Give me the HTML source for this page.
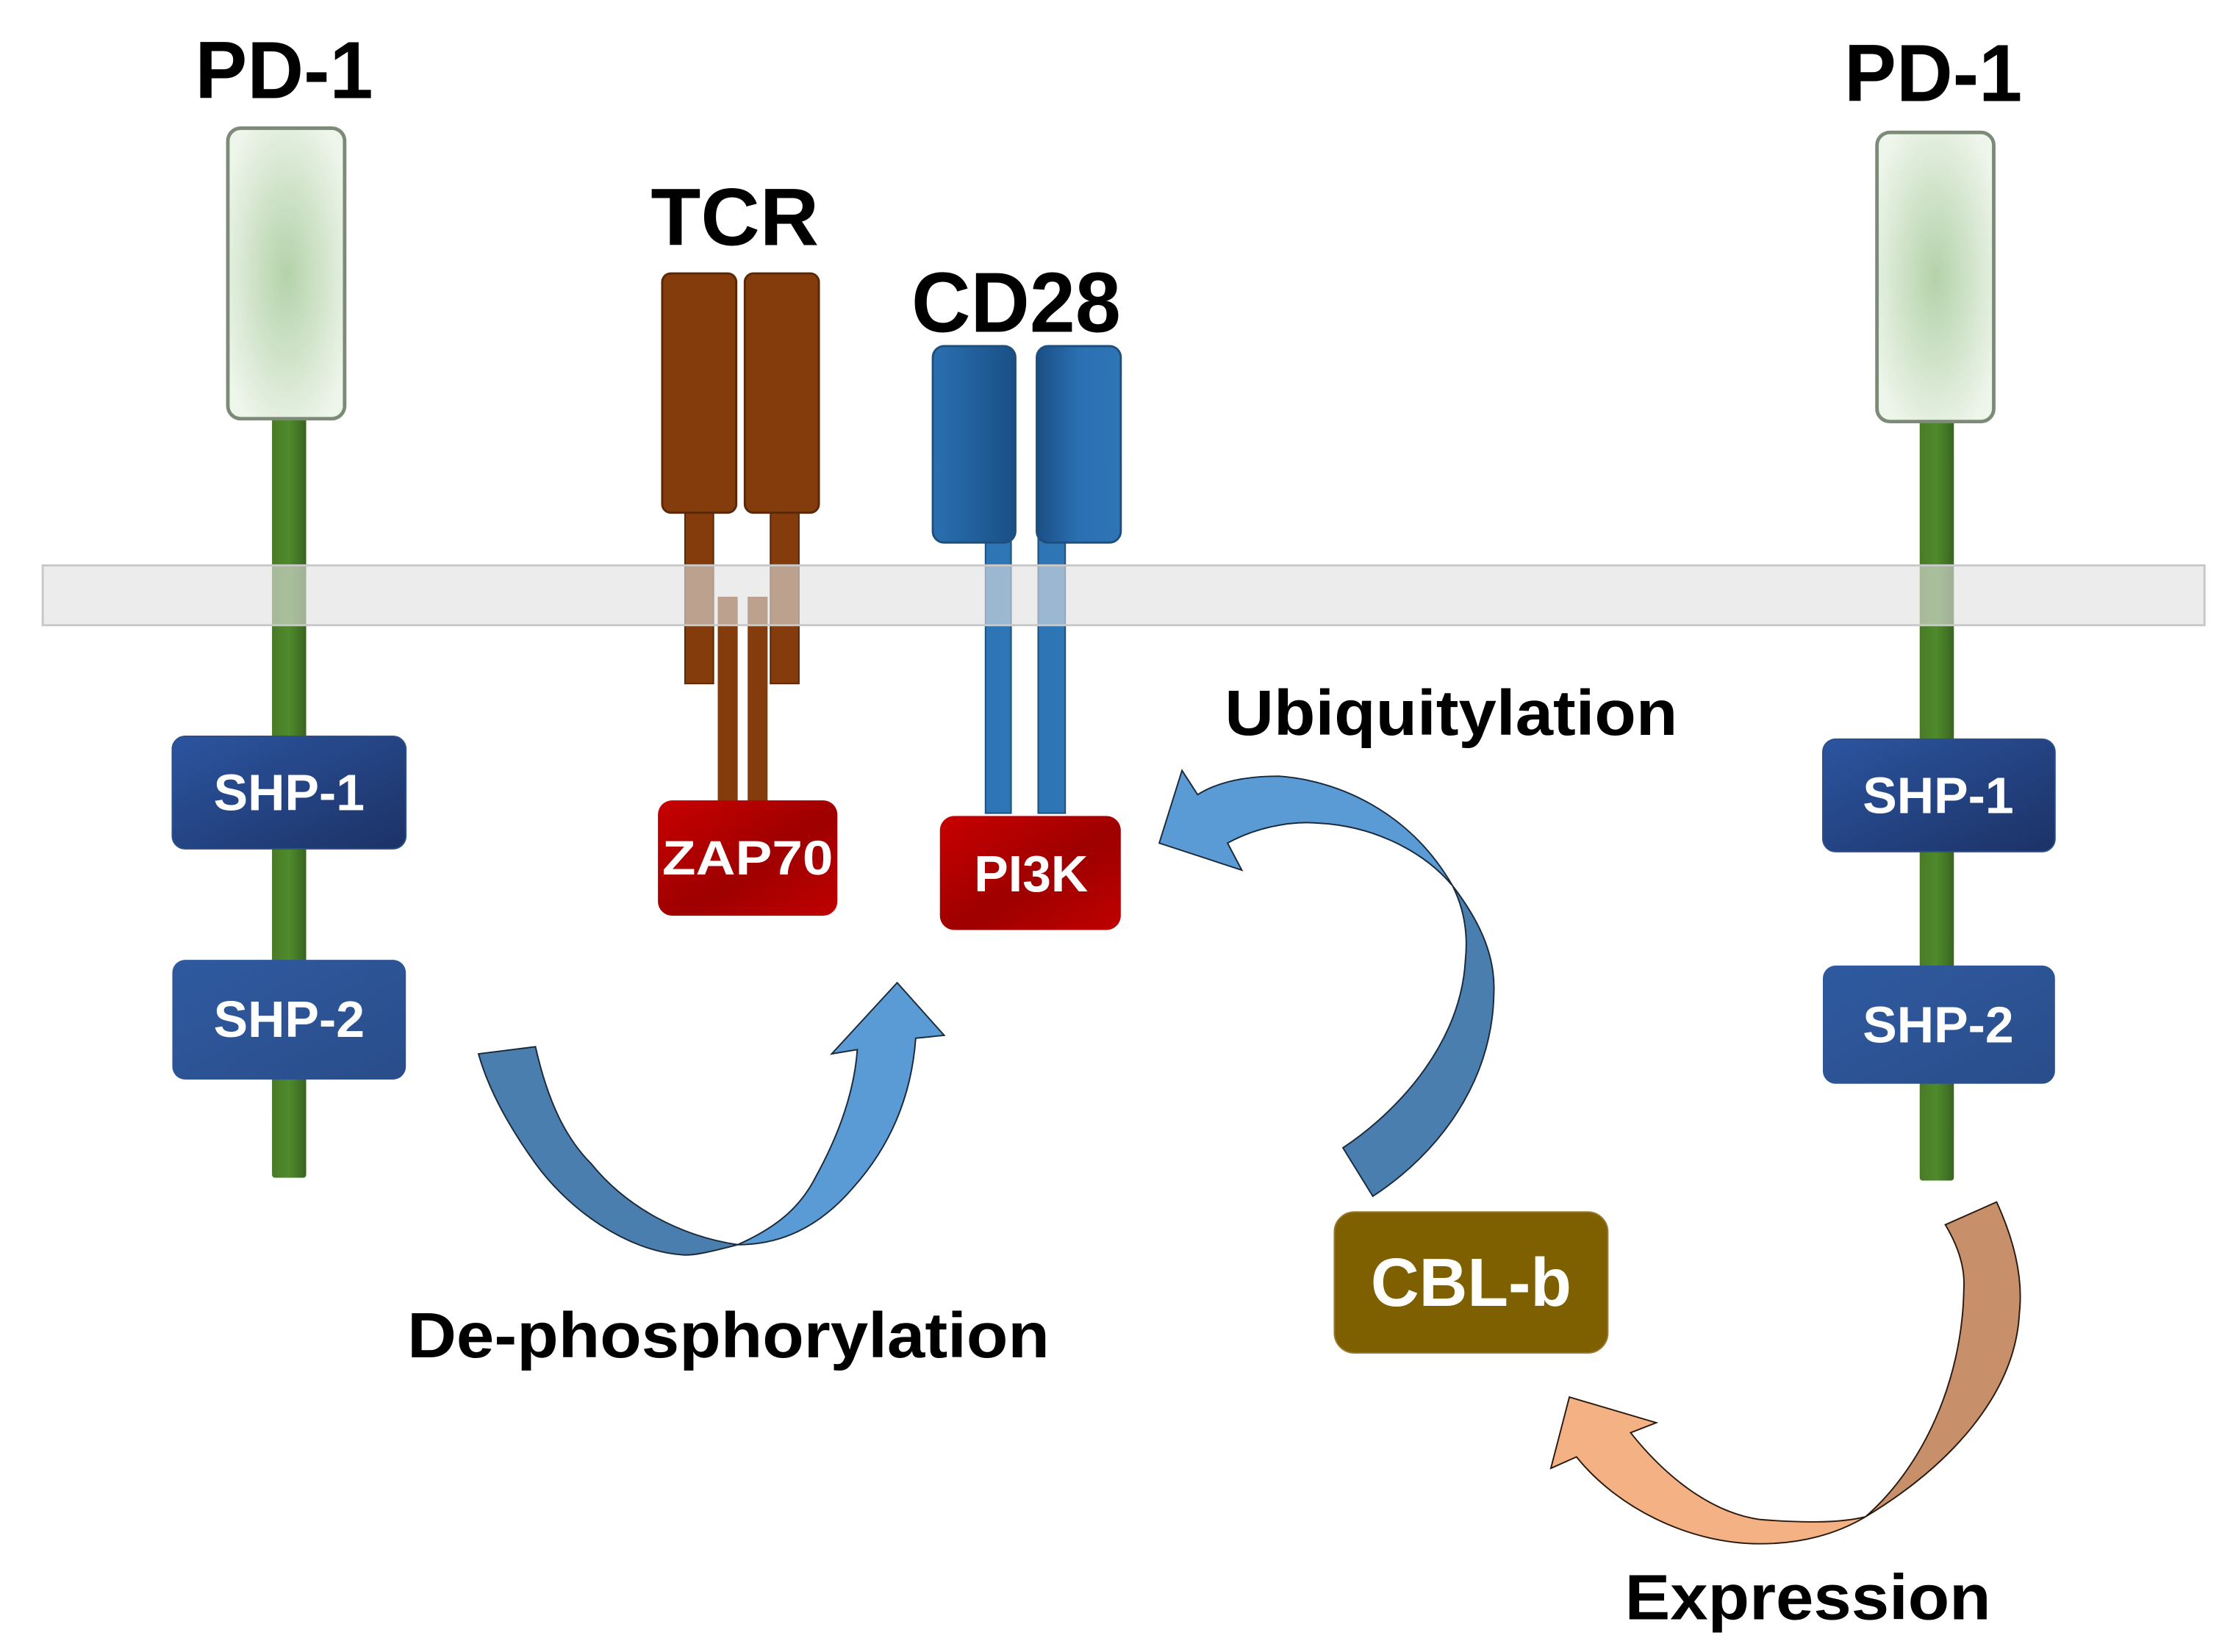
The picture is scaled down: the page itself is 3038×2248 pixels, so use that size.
<!DOCTYPE html>
<html><head><meta charset="utf-8"><style>
html,body{margin:0;padding:0;background:#fff;}
svg{display:block;}
text{font-family:"Liberation Sans",Arial,sans-serif;font-weight:bold;}
</style></head><body>
<svg width="3038" height="2248" viewBox="0 0 1568 1160" preserveAspectRatio="none" xmlns="http://www.w3.org/2000/svg">
<defs>
<radialGradient id="pdg" cx="50%" cy="50%" r="60%">
<stop offset="0" stop-color="#b3d2a9"/><stop offset="1" stop-color="#eef5eb"/></radialGradient>
<linearGradient id="stem" x1="0" x2="1" y1="0" y2="0">
<stop offset="0" stop-color="#4a7a28"/><stop offset="0.5" stop-color="#4f8a2c"/><stop offset="1" stop-color="#3a6420"/></linearGradient>
<linearGradient id="shp1" x1="0" y1="0" x2="1" y2="1">
<stop offset="0" stop-color="#2c55a0"/><stop offset="1" stop-color="#1c3266"/></linearGradient>
<linearGradient id="shp2" x1="0" y1="0" x2="1" y2="1">
<stop offset="0" stop-color="#2f5aa0"/><stop offset="1" stop-color="#2a4d8a"/></linearGradient>
<linearGradient id="red" x1="0" y1="0" x2="1" y2="1">
<stop offset="0" stop-color="#c80000"/><stop offset="0.55" stop-color="#9e0000"/><stop offset="1" stop-color="#c00000"/></linearGradient>
<linearGradient id="cd" x1="0" x2="1" y1="0" y2="0">
<stop offset="0" stop-color="#2a70b2"/><stop offset="1" stop-color="#1a4f85"/></linearGradient>
<linearGradient id="cd2" x1="0" x2="1" y1="0" y2="0">
<stop offset="0" stop-color="#1a4f85"/><stop offset="0.5" stop-color="#2a70b2"/><stop offset="1" stop-color="#2e75b6"/></linearGradient>
</defs>

<!-- Left PD-1 -->
<rect x="191" y="290" width="24" height="537" fill="url(#stem)" rx="2"/>
<rect x="160" y="90" width="82" height="204" rx="9" fill="url(#pdg)" stroke="#7d8a78" stroke-width="2.5"/>
<!-- Right PD-1 -->
<rect x="1348" y="292" width="24" height="537" fill="url(#stem)" rx="2"/>
<rect x="1318" y="93" width="82" height="203" rx="9" fill="url(#pdg)" stroke="#7d8a78" stroke-width="2.5"/>

<!-- TCR -->
<rect x="481" y="358" width="20" height="122" fill="#843c0c" stroke="#5a2806" stroke-width="1"/>
<rect x="541" y="358" width="20" height="122" fill="#843c0c" stroke="#5a2806" stroke-width="1"/>
<rect x="504" y="419" width="14" height="145" fill="#843c0c"/>
<rect x="525" y="419" width="14" height="145" fill="#843c0c"/>
<rect x="465" y="192" width="52" height="168" rx="6" fill="#843c0c" stroke="#5a2806" stroke-width="1.5"/>
<rect x="523" y="192" width="52" height="168" rx="6" fill="#843c0c" stroke="#5a2806" stroke-width="1.5"/>

<!-- CD28 -->
<rect x="692" y="378" width="18" height="193" fill="#2e75b6" stroke="#1f4e79" stroke-width="1"/>
<rect x="729" y="378" width="19" height="193" fill="#2e75b6" stroke="#1f4e79" stroke-width="1"/>
<rect x="655" y="243" width="58" height="138" rx="8" fill="url(#cd)" stroke="#1f4e79" stroke-width="1.5"/>
<rect x="728" y="243" width="59" height="138" rx="8" fill="url(#cd2)" stroke="#1f4e79" stroke-width="1.5"/>

<!-- Membrane -->
<rect x="30" y="397" width="1518" height="42" fill="#e0e0e0" fill-opacity="0.62" stroke="#c8c8c8" stroke-width="1.5"/>

<!-- SHP boxes -->
<rect x="121" y="517" width="164" height="79" rx="9" fill="url(#shp1)" stroke="#2a4f8a" stroke-width="1"/>
<text x="203" y="569" font-size="36" fill="#fff" text-anchor="middle">SHP-1</text>
<rect x="121" y="674" width="164" height="84" rx="9" fill="url(#shp2)"/>
<text x="203" y="728" font-size="36" fill="#fff" text-anchor="middle">SHP-2</text>
<rect x="1280" y="519" width="163" height="79" rx="9" fill="url(#shp1)" stroke="#2a4f8a" stroke-width="1"/>
<text x="1361" y="571" font-size="36" fill="#fff" text-anchor="middle">SHP-1</text>
<rect x="1280" y="678" width="163" height="83" rx="9" fill="url(#shp2)"/>
<text x="1361" y="732" font-size="36" fill="#fff" text-anchor="middle">SHP-2</text>

<!-- ZAP70 / PI3K -->
<rect x="462" y="562" width="126" height="81" rx="10" fill="url(#red)"/>
<text x="525" y="614" font-size="34" fill="#fff" text-anchor="middle" textLength="120" lengthAdjust="spacingAndGlyphs">ZAP70</text>
<rect x="660" y="573" width="127" height="80" rx="10" fill="url(#red)"/>
<text x="724" y="626" font-size="36" fill="#fff" text-anchor="middle">PI3K</text>

<!-- CBL-b -->
<rect x="937" y="851" width="192" height="99" rx="14" fill="#7f6000" stroke="#9a7a30" stroke-width="1"/>
<text x="1033" y="917" font-size="48" fill="#fff" text-anchor="middle" textLength="141" lengthAdjust="spacingAndGlyphs">CBL-b</text>

<!-- De-phosphorylation arrow -->
<path d="M336,740 L376,735 C385,775 398,800 415,817 C440,848 478,868 518,874 C495,880 485,882 478,881 C440,878 400,850 376,817 C358,792 343,765 336,740 Z" fill="#4a7eaf" stroke="#1a2a3a" stroke-width="1"/>
<path d="M518,874 C545,862 562,848 573,826 C590,795 600,765 602,737 L584,740 L630,690 L663,727 L643,729 C640,770 625,805 599,834 C575,862 548,874 518,874 Z" fill="#5b9bd5" stroke="#1a2a3a" stroke-width="1"/>

<!-- Ubiquitylation arrow -->
<path d="M1020,622 C990,570 940,548 898,545 C875,545 855,549 841,558 L830,541 L814,592 L872,611 L862,592 C880,582 905,576 926,578 C965,580 1000,598 1020,622 Z" fill="#5b9bd5" stroke="#1a2a3a" stroke-width="1"/>
<path d="M1020,622 C1040,648 1050,672 1049,697 C1048,760 1010,810 964,840 L943,806 C985,778 1026,730 1029,674 C1031,655 1028,638 1020,622 Z" fill="#4a7eaf" stroke="#1a2a3a" stroke-width="1"/>

<!-- Expression arrow -->
<path d="M1310,1065 C1368,1030 1415,980 1418,922 C1421,895 1413,868 1402,844 L1366,860 C1375,875 1380,890 1379,905 C1378,970 1350,1030 1310,1065 Z" fill="#c8906a" stroke="#2a1a10" stroke-width="1"/>
<path d="M1310,1065 C1290,1070 1262,1069 1236,1067 C1200,1062 1168,1035 1145,1006 L1163,999 L1102,981 L1089,1031 L1107,1023 C1135,1058 1185,1084 1236,1084 C1265,1084 1290,1077 1310,1065 Z" fill="#f4b183" stroke="#2a1a10" stroke-width="1"/>

<!-- Labels -->
<text x="137" y="69" font-size="57" fill="#000" textLength="125" lengthAdjust="spacingAndGlyphs">PD-1</text>
<text x="1295" y="71" font-size="57" fill="#000" textLength="125" lengthAdjust="spacingAndGlyphs">PD-1</text>
<text x="457" y="172" font-size="57" fill="#000" textLength="118" lengthAdjust="spacingAndGlyphs">TCR</text>
<text x="640" y="233" font-size="60" fill="#000" textLength="147" lengthAdjust="spacingAndGlyphs">CD28</text>
<text x="860" y="516" font-size="45" fill="#000" textLength="318" lengthAdjust="spacingAndGlyphs">Ubiquitylation</text>
<text x="286" y="953" font-size="45" fill="#000" textLength="451" lengthAdjust="spacingAndGlyphs">De-phosphorylation</text>
<text x="1141" y="1137" font-size="45" fill="#000" textLength="257" lengthAdjust="spacingAndGlyphs">Expression</text>
</svg>
</body></html>
